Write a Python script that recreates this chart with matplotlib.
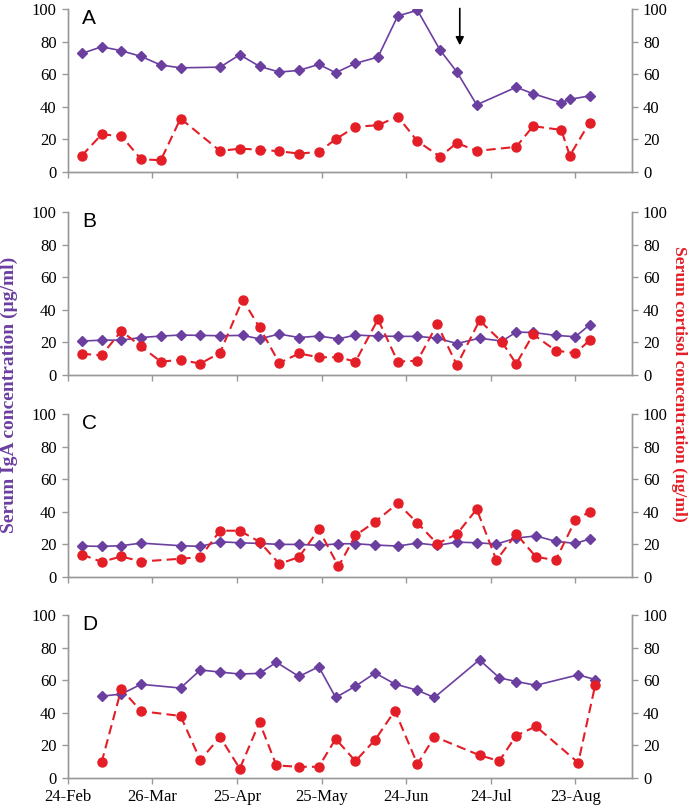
import datetime as dt
import matplotlib
matplotlib.use("Agg")
import matplotlib.pyplot as plt
import matplotlib.dates as mdates

# sampling days, counted from 24-Feb
start = dt.date(2010, 2, 24)

days_a = [5, 12, 19, 26, 33, 40, 54, 61, 68, 75, 82, 89, 95, 102, 110, 117, 124, 132, 138, 145, 159, 165, 175, 178, 185]
iga_a = [72.7, 76.8, 74.4, 70.9, 65.6, 63.9, 64.3, 71.9, 64.8, 61.3, 62.3, 66.0, 60.9, 66.6, 70.5,
         95.7, 99.2, 74.8, 61.3, 41.2, 52.0, 48.0, 42.6, 44.5, 46.7]
cort_a = [10.0, 23.0, 22.1, 7.8, 7.2, 32.8, 12.9, 14.3, 13.7, 12.7, 11.3, 12.3, 20.1, 27.7, 28.7,
          34.0, 18.9, 9.4, 17.8, 12.9, 15.4, 28.1, 25.8, 10.0, 30.3]

days_b = [5, 12, 19, 26, 33, 40, 47, 54, 62, 68, 75, 82, 89, 96, 102, 110, 117, 124, 131, 138, 146, 154, 159, 165, 173, 180, 185]
iga_b = [20.8, 21.4, 21.4, 23.0, 23.9, 24.5, 24.3, 24.1, 24.3, 22.2, 25.1, 23.0, 23.9, 22.2, 24.5,
         23.9, 23.7, 23.7, 22.6, 19.3, 22.6, 20.8, 26.3, 26.1, 24.3, 23.5, 30.7]
cort_b = [13.0, 12.1, 27.0, 17.5, 8.2, 9.3, 7.0, 13.6, 46.3, 29.2, 7.4, 13.2, 10.9, 10.9, 8.2,
          34.2, 8.2, 8.8, 31.1, 6.0, 33.5, 20.2, 6.8, 24.9, 15.0, 13.4, 21.2]

days_c = [5, 12, 19, 26, 40, 47, 54, 61, 68, 75, 82, 89, 96, 102, 109, 117, 124, 131, 138, 145, 152, 159, 166, 173, 180, 185]
iga_c = [19.0, 18.8, 19.2, 20.8, 19.2, 18.8, 21.6, 21.0, 20.6, 20.0, 20.0, 19.4, 20.4, 20.4, 19.6,
         19.0, 20.8, 19.4, 21.4, 21.0, 20.2, 23.9, 25.2, 21.9, 20.6, 23.3]
cort_c = [13.8, 9.3, 12.6, 9.5, 11.2, 12.2, 28.4, 28.4, 21.6, 8.1, 12.2, 29.2, 6.5, 25.5, 33.9,
          45.2, 33.1, 20.4, 26.4, 41.6, 10.3, 26.4, 12.4, 10.3, 35.0, 40.0]

days_d = [12, 19, 26, 40, 47, 54, 61, 68, 74, 82, 89, 95, 102, 109, 116, 124, 130, 146, 153, 159, 166, 181, 187]
iga_d = [50.2, 51.5, 57.5, 55.2, 66.3, 65.0, 63.8, 64.2, 71.0, 62.3, 68.3, 49.4, 56.3, 64.4, 57.7,
         53.8, 49.4, 72.5, 61.5, 59.2, 56.9, 63.3, 60.4]
cort_d = [9.6, 54.6, 41.0, 38.1, 11.0, 25.2, 5.8, 34.2, 7.7, 6.9, 6.9, 24.0, 10.4, 23.5, 41.3,
          8.5, 25.4, 14.0, 10.4, 26.0, 31.7, 9.4, 56.9]

panels = [("A", days_a, iga_a, cort_a), ("B", days_b, iga_b, cort_b),
          ("C", days_c, iga_c, cort_c), ("D", days_d, iga_d, cort_d)]

arrow_day = 139  # marker over panel A
tick_days = [0, 30, 60, 90, 120, 150, 180]
x_end_day = 200

purple = "#6B3FA0"
red = "#E41E26"
grey = "#999999"
serif = "Liberation Serif"


def to_date(d):
    return start + dt.timedelta(days=d)


fig = plt.figure(figsize=(6.99, 8.07), dpi=100)
bottoms = [0.7869, 0.5353, 0.285, 0.0359]

for (label, days, iga, cort), b in zip(panels, bottoms):
    ax = fig.add_axes([0.0969, b, 0.807, 0.202])
    ax2 = ax.twinx()
    x = [to_date(d) for d in days]

    ax.plot(x, iga, color=purple, lw=1.2, marker="D", markersize=5, zorder=3)
    ax2.plot(x, cort, color=red, lw=1.5, ls=(0, (4.5, 2.5)), marker="o", markersize=6.5)

    for a in (ax, ax2):
        a.set_ylim(0, 100)
        a.set_yticks(range(0, 101, 20))
        a.set_xlim(to_date(0), to_date(x_end_day))
        a.spines["top"].set_visible(False)
        for s in ("left", "right", "bottom"):
            a.spines[s].set_color(grey)
            a.spines[s].set_linewidth(1.0)
        a.tick_params(axis="both", direction="out", length=4, width=1, color=grey,
                      labelsize=12, pad=4)
        for t in a.get_yticklabels():
            t.set_fontfamily(serif)

    ax.set_xticks([to_date(d) for d in tick_days])
    ax.xaxis.set_major_formatter(mdates.DateFormatter("%d-%b"))
    if label != "D":
        ax.tick_params(axis="x", labelbottom=False)
    for t in ax.get_xticklabels():
        t.set_fontfamily(serif)

    ax.text(0.025, 1.0, label, transform=ax.transAxes, ha="left", va="top",
            fontsize=15, family="Liberation Sans")

    if label == "A":
        ax.annotate("", xy=(to_date(arrow_day), 76), xytext=(to_date(arrow_day), 102),
                    arrowprops=dict(arrowstyle="-|>", color="black", lw=1.2, mutation_scale=12),
                    annotation_clip=False)

fig.text(0.013, 0.5105, "Serum IgA concentration (\u00b5g/ml)", rotation=90, color=purple,
         fontsize=14, fontweight="bold", family=serif, ha="center", va="center")
fig.text(0.972, 0.524, "Serum cortisol concentration (ng/ml)", rotation=-90, color=red,
         fontsize=12.6, fontweight="bold", family=serif, ha="center", va="center")

fig.savefig("out.png", dpi=100)
